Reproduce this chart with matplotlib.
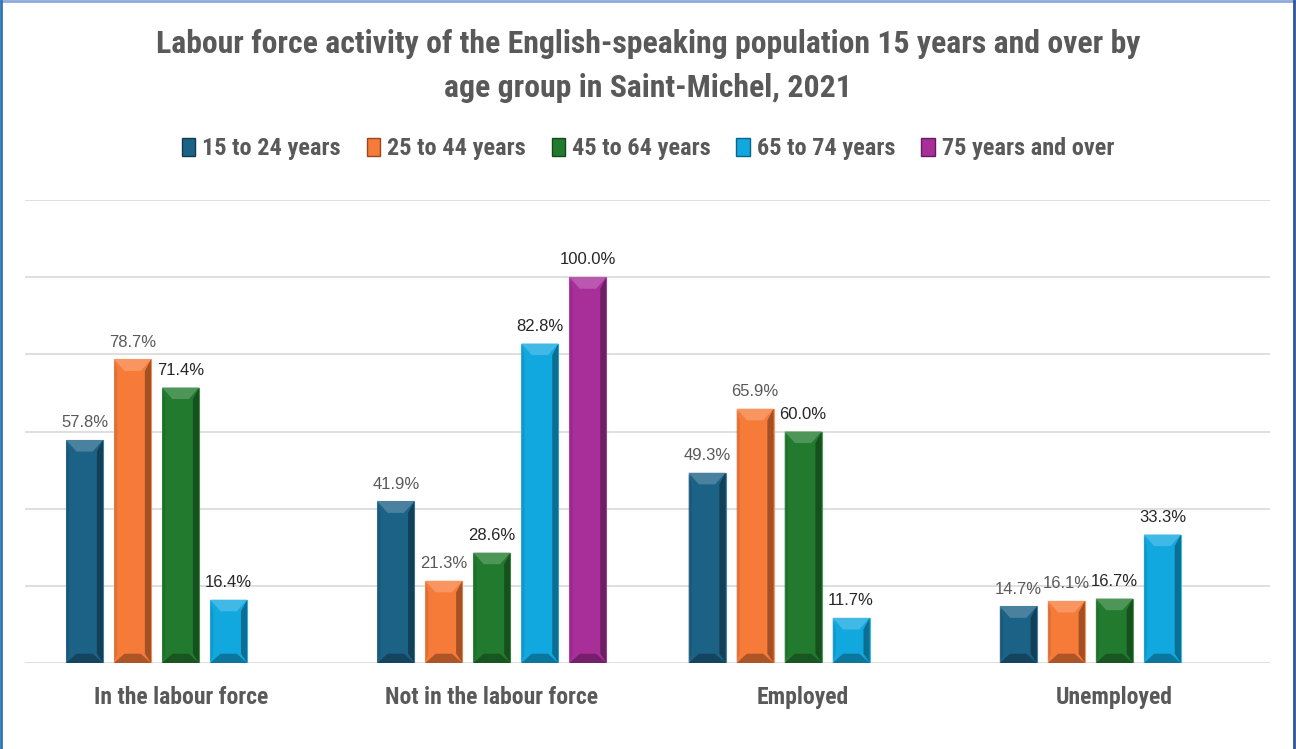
import numpy as np
import matplotlib.pyplot as plt
from matplotlib import font_manager
from matplotlib.patches import Polygon, Rectangle
from matplotlib.lines import Line2D
import matplotlib.colors as mcolors

categories = ['In the labour force', 'Not in the labour force', 'Employed', 'Unemployed']
series = ['15 to 24 years', '25 to 44 years', '45 to 64 years', '65 to 74 years', '75 years and over']
age_15_24 = [57.8, 41.9, 49.3, 14.7]
age_25_44 = [78.7, 21.3, 65.9, 16.1]
age_45_64 = [71.4, 28.6, 60.0, 16.7]
age_65_74 = [16.4, 82.8, 11.7, 33.3]
age_75_over = [np.nan, 100.0, np.nan, np.nan]

values = [age_15_24, age_25_44, age_45_64, age_65_74, age_75_over]
colors = ['#1c6186', '#f67a38', '#227a2e', '#11a8e0', '#a82e9a']
label_colors = ['#595959', '#595959', '#262626', '#262626', '#262626']
txt_grey = '#595959'


def pick_font(names):
    for n in names:
        try:
            font_manager.findfont(font_manager.FontProperties(family=n), fallback_to_default=False)
            return n
        except Exception:
            pass
    return 'DejaVu Sans'


narrow = pick_font(['Liberation Sans Narrow', 'Roboto Condensed', 'DejaVu Sans Condensed',
                    'Open Sans Condensed', 'Lato', 'Roboto'])

fig = plt.figure(figsize=(12.96, 7.49), dpi=100)
ax = fig.add_axes([25 / 1296, 1 - 663 / 749, 1245 / 1296, 463 / 749])

slot = 48 / 311
bw = 37 / 311
x = np.arange(len(categories))


def shade(c, f):
    r, g, b = mcolors.to_rgb(c)
    if f > 1:
        return (r + (1 - r) * (f - 1), g + (1 - g) * (f - 1), b + (1 - b) * (f - 1))
    return (r * f, g * f, b * f)


for i, (vals, col) in enumerate(zip(values, colors)):
    pos = x + (i - 2) * slot
    bars = ax.bar(pos, vals, width=bw, color=col, edgecolor=shade(col, 1.2),
                  linewidth=0.8, zorder=3)
    for b, v in zip(bars, vals):
        if np.isnan(v):
            continue
        x0, w, h = b.get_x(), b.get_width(), b.get_height()
        dx = w * 0.28
        dy = 3.0
        # bevel: top lighter, bottom darker, sides shaded
        ax.add_patch(Polygon([(x0, h), (x0 + w, h), (x0 + w - dx, h - dy), (x0 + dx, h - dy)],
                             closed=True, color=shade(col, 1.2), lw=0, zorder=4))
        ax.add_patch(Polygon([(x0, 0), (x0 + w, 0), (x0 + w - dx, dy * 0.8), (x0 + dx, dy * 0.8)],
                             closed=True, color=shade(col, 0.7), lw=0, zorder=4))
        ax.add_patch(Polygon([(x0 + w, 0), (x0 + w, h), (x0 + w - dx * 0.6, h - dy), (x0 + w - dx * 0.6, dy * 0.8)],
                             closed=True, color=shade(col, 0.55), lw=0, zorder=4, alpha=0.75))
        ax.add_patch(Polygon([(x0, 0), (x0, h), (x0 + dx * 0.3, h - dy), (x0 + dx * 0.3, dy * 0.8)],
                             closed=True, color=shade(col, 0.85), lw=0, zorder=4, alpha=0.6))
        ax.annotate(f'{v:.1f}%', (x0 + w / 2, h), xytext=(0, 7),
                    textcoords='offset points', ha='center', va='bottom',
                    fontsize=12, color=label_colors[i], family=['Liberation Sans', 'DejaVu Sans'])

ax.set_xlim(-0.5, len(categories) - 0.5)
ax.set_ylim(0, 120)
ax.set_yticks(np.arange(0, 121, 20))
ax.yaxis.grid(True, color='#d9d9d9', linewidth=1.2, zorder=0)
ax.tick_params(axis='y', left=False, labelleft=False)
ax.tick_params(axis='x', bottom=False, pad=13)
ax.set_xticks(x)
ax.set_xticklabels(categories, fontsize=17, fontweight='bold', color=txt_grey, family=narrow)
for s in ax.spines.values():
    s.set_visible(False)

title = fig.text(0.5, 1 - 66 / 749, 'Labour force activity of the English-speaking population 15 years and over by\nage group in Saint-Michel, 2021',
                 ha='center', va='center', fontsize=21, fontweight='bold', color=txt_grey,
                 family=narrow, linespacing=1.55)

handles = [Rectangle((0, 0), 1, 1, facecolor=c, edgecolor=shade(c, 0.6)) for c in colors]
leg = fig.legend(handles, series, loc='center', bbox_to_anchor=(0.5, 1 - 149 / 749), ncol=5,
                 frameon=False, handlelength=0.55, handleheight=0.75, handletextpad=0.3,
                 columnspacing=1.05, prop={'family': narrow, 'weight': 'bold', 'size': 17.5},
                 labelcolor=txt_grey)

# fit title width to the reference
r = fig.canvas.get_renderer()
tw = title.get_window_extent(r).width
title.set_fontsize(21 * 985 / tw)

# chart border
fig.add_artist(Line2D([0.001, 0.999], [0.998, 0.998], color='#8eaadb', lw=2, transform=fig.transFigure))
fig.add_artist(Line2D([0.001, 0.001], [0, 0.998], color='#2e74b5', lw=2, transform=fig.transFigure))
fig.add_artist(Line2D([0.9985, 0.9985], [0, 0.998], color='#2f5597', lw=2, transform=fig.transFigure))

fig.savefig('out.png', dpi=100, facecolor='white')
